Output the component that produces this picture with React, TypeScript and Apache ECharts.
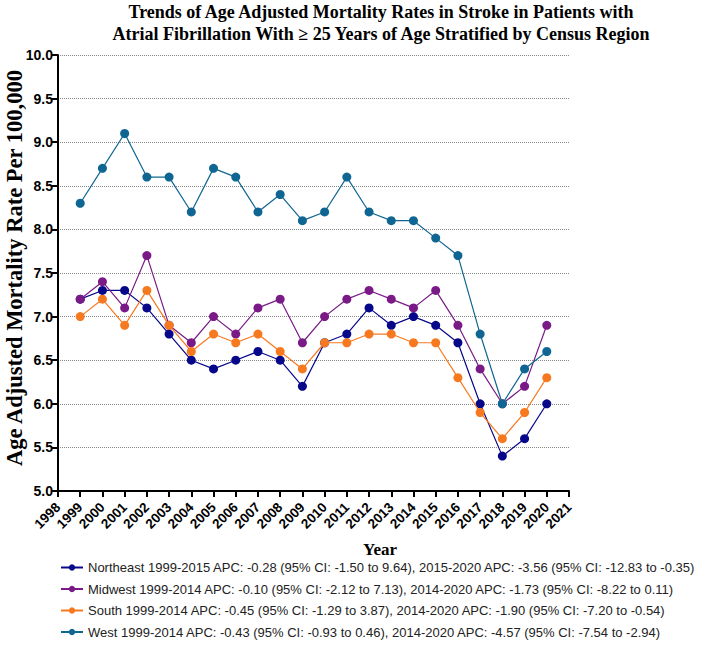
import React, { useEffect, useRef } from "react";
import * as echarts from "echarts";

const years = [1999, 2000, 2001, 2002, 2003, 2004, 2005, 2006, 2007, 2008, 2009, 2010, 2011, 2012, 2013, 2014, 2015, 2016, 2017, 2018, 2019, 2020];
const northeast = [7.2, 7.3, 7.3, 7.1, 6.8, 6.5, 6.4, 6.5, 6.6, 6.5, 6.2, 6.7, 6.8, 7.1, 6.9, 7.0, 6.9, 6.7, 6.0, 5.4, 5.6, 6.0];
const midwest = [7.2, 7.4, 7.1, 7.7, 6.9, 6.7, 7.0, 6.8, 7.1, 7.2, 6.7, 7.0, 7.2, 7.3, 7.2, 7.1, 7.3, 6.9, 6.4, 6.0, 6.2, 6.9];
const south = [7.0, 7.2, 6.9, 7.3, 6.9, 6.6, 6.8, 6.7, 6.8, 6.6, 6.4, 6.7, 6.7, 6.8, 6.8, 6.7, 6.7, 6.3, 5.9, 5.6, 5.9, 6.3];
const west = [8.3, 8.7, 9.1, 8.6, 8.6, 8.2, 8.7, 8.6, 8.2, 8.4, 8.1, 8.2, 8.6, 8.2, 8.1, 8.1, 7.9, 7.7, 6.8, 6.0, 6.4, 6.6];

const seriesNames = [
  "Northeast 1999-2015 APC: -0.28 (95% CI: -1.50 to 9.64), 2015-2020 APC: -3.56 (95% CI: -12.83 to -0.35)",
  "Midwest 1999-2014 APC: -0.10 (95% CI: -2.12 to 7.13), 2014-2020 APC: -1.73 (95% CI: -8.22 to 0.11)",
  "South 1999-2014 APC: -0.45 (95% CI: -1.29 to 3.87), 2014-2020 APC: -1.90 (95% CI: -7.20 to -0.54)",
  "West 1999-2014 APC: -0.43 (95% CI: -0.93 to 0.46), 2014-2020 APC: -4.57 (95% CI: -7.54 to -2.94)",
];
const seriesData = [northeast, midwest, south, west];
const colors = ["#07078a", "#7a1a87", "#f7791f", "#0f6692"];

const titleText = "Trends of Age Adjusted Mortality Rates in Stroke in Patients with\nAtrial Fibrillation With \u2265 25 Years of Age Stratified by Census Region";
const yTitle = "Age Adjusted Mortality Rate Per 100,000";
const xTitle = "Year";

export default function App() {
  const ref = useRef<HTMLDivElement>(null);
  useEffect(() => {
    if (!ref.current) return;
    const chart = echarts.init(ref.current, null, { renderer: "svg" });
    const serif = "'Liberation Serif', 'Times New Roman', serif";
    const sans = "'Liberation Sans', Arial, sans-serif";
    chart.setOption({
      animation: false,
      backgroundColor: "#fff",
      title: {
        text: titleText,
        left: 381,
        top: 1,
        padding: 0,
        textAlign: "center",
        textStyle: { fontFamily: serif, fontWeight: "bold", fontSize: 18, lineHeight: 22, color: "#000" },
      },
      grid: { left: 58, right: 133, top: 55, bottom: 169, containLabel: false, outerBoundsMode: "none" },
      xAxis: {
        type: "value",
        min: 1998,
        max: 2021,
        interval: 1,
        axisLine: { lineStyle: { color: "#000", width: 2 } },
        axisTick: { show: true, length: 6, lineStyle: { color: "#000", width: 2 } },
        axisLabel: {
          rotate: 45,
          fontFamily: sans,
          fontWeight: "bold",
          fontSize: 13.5,
          color: "#000",
          margin: 14,
          formatter: (v: number) => String(v),
        },
        splitLine: { show: false },
      },
      yAxis: {
        type: "value",
        min: 5,
        max: 10,
        interval: 0.5,
        axisLine: { show: true, lineStyle: { color: "#000", width: 2 } },
        axisTick: { show: true, length: 6, lineStyle: { color: "#000", width: 2 } },
        axisLabel: {
          fontFamily: sans,
          fontWeight: "bold",
          fontSize: 14,
          color: "#000",
          margin: 5,
          formatter: (v: number) => v.toFixed(1),
        },
        splitLine: { show: true, lineStyle: { color: "#888", type: [1, 1], width: 1 } },
      },
      legend: {
        orient: "vertical",
        left: 55,
        top: 556,
        itemGap: 8.5,
        itemWidth: 22,
        itemHeight: 8,
        lineStyle: { width: 2 },
        textStyle: { fontFamily: sans, fontSize: 13, color: "#222" },
        data: seriesNames,
      },
      graphic: [
        {
          type: "text",
          x: 380,
          y: 549,
          style: {
            text: xTitle,
            font: "bold 17px 'Liberation Serif', serif",
            fill: "#000",
            align: "center",
            verticalAlign: "middle",
          },
        },
        {
          type: "text",
          x: 14,
          y: 268,
          rotation: Math.PI / 2,
          style: {
            text: yTitle,
            font: "bold 22.5px 'Liberation Serif', serif",
            fill: "#000",
            align: "center",
            verticalAlign: "middle",
          },
        },
      ],
      series: seriesNames.map((n, i) => ({
        name: n,
        type: "line",
        data: years.map((y, j) => [y, seriesData[i][j]]),
        color: colors[i],
        symbol: "circle",
        symbolSize: 9,
        lineStyle: { width: 1.2, color: colors[i] },
        itemStyle: { color: colors[i] },
        z: 2 + i,
      })),
    });
    return () => chart.dispose();
  }, []);
  return <div ref={ref} style={{ width: 702, height: 660, position: "absolute", left: 0, top: 0 }} />;
}
